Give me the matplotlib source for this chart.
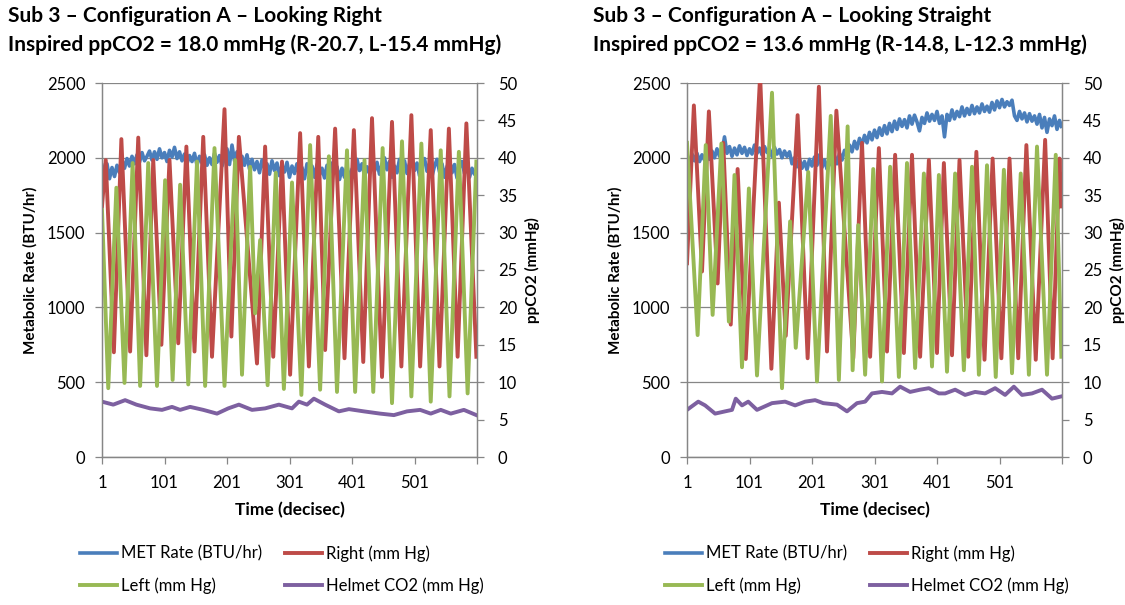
import matplotlib
matplotlib.use("Agg")
import matplotlib.pyplot as plt

plt.rcParams["font.family"] = ["Lato", "DejaVu Sans"]

# ---- time base for the MET trace (one read every 4 decisec) ----
met_t = list(range(1, 600, 4)) + [600]

# ---- left panel: looking right ----
left_met = [1950, 1890, 1960, 1860, 1935, 1875, 1950, 1900, 1985, 1930,
            1995, 1945, 2010, 1960, 2020, 1970, 2035, 1980, 2010, 2045,
            1985, 2040, 1990, 2060, 2000, 2035, 1975, 2050, 2005, 2070,
            1995, 2040, 1980, 2025, 1960, 2015, 1975, 2030, 1950, 2010,
            1965, 2020, 1950, 2000, 1955, 2030, 1970, 2015, 1945, 2000,
            2060, 1955, 2085, 1980, 2040, 1935, 2010, 1950, 2020, 1925,
            1990, 1920, 1975, 1900, 1985, 1930, 1960, 1890, 1980, 1915,
            1965, 1880, 1950, 1905, 1970, 1870, 1945, 1895, 1960, 1880,
            1935, 1860, 1960, 1895, 1945, 1870, 1955, 1885, 1930, 1865,
            1950, 1880, 1965, 1900, 1940, 1855, 1930, 1870, 1945, 1850,
            1925, 1870, 1990, 1915, 1960, 1880, 1940, 1895, 1985, 1910,
            1970, 1890, 1955, 2000, 1920, 1975, 1870, 1945, 1900, 1990,
            1935, 1980, 1895, 1960, 2000, 1915, 1965, 1880, 1950, 1995,
            1910, 1960, 1875, 1945, 1990, 1905, 1960, 1870, 1940, 1985,
            1900, 1955, 1865, 1935, 1975, 1895, 1950, 1870, 1930, 1890,
            1910]

left_right_t = [1, 7, 20, 32, 46, 59, 72, 83, 96, 109, 123, 136, 149, 163, 177, 197,
                208, 220, 249, 262, 275, 289, 302, 318, 332, 347, 358, 374, 389, 404,
                419, 433, 449, 465, 480, 496, 510, 527, 541, 556, 570, 584, 600]
left_right_v = [33.5, 39.7, 14.0, 42.5, 14.1, 42.7, 13.6, 39.7, 15.0, 39.7, 15.2, 41.5,
                14.1, 42.8, 13.4, 46.5, 16.1, 42.8, 12.5, 41.5, 13.4, 39.5, 11.0, 43.3,
                12.1, 42.8, 14.3, 43.9, 13.2, 43.7, 12.7, 45.3, 10.7, 44.8, 12.1, 45.7,
                12.1, 43.7, 12.1, 43.9, 13.4, 44.6, 13.4]

left_left_t = [1, 11, 24, 37, 50, 62, 75, 89, 102, 114, 126, 139, 153, 166, 181, 197,
               214, 225, 238, 246, 254, 266, 279, 292, 305, 320, 334, 350, 364, 377,
               393, 406, 421, 435, 450, 465, 481, 496, 512, 527, 543, 557, 572, 586, 600]
left_left_v = [33.0, 9.2, 36.0, 9.9, 39.3, 9.5, 39.3, 9.5, 37.0, 10.3, 36.4, 9.7, 39.5,
               9.5, 41.3, 9.5, 39.7, 11.0, 38.8, 19.2, 29.0, 9.6, 38.0, 9.1, 36.7, 8.3,
               41.7, 9.0, 40.2, 8.7, 41.0, 8.7, 39.7, 8.7, 41.3, 7.2, 42.2, 8.1, 41.9,
               7.4, 41.0, 8.1, 40.8, 8.5, 39.5]

left_helmet_t = [1, 19, 38, 56, 78, 97, 113, 126, 142, 163, 185, 203, 220, 241, 262,
                 284, 305, 316, 329, 340, 358, 380, 396, 420, 446, 468, 489, 510, 527,
                 543, 559, 580, 600]
left_helmet_v = [7.4, 7.0, 7.6, 7.0, 6.5, 6.3, 6.7, 6.3, 6.7, 6.3, 5.8, 6.5, 7.0, 6.3,
                 6.5, 7.0, 6.5, 7.4, 7.0, 7.8, 7.0, 6.1, 6.4, 6.1, 5.8, 5.6, 6.1, 6.3,
                 5.8, 6.3, 5.8, 6.3, 5.6]

# ---- right panel: looking straight ----
straight_met = [2010, 1970, 2025, 1980, 2030, 1975, 2020, 1985, 2040, 1990,
                2045, 2000, 2060, 2010, 2040, 2140, 2030, 2075, 2010, 2065,
                2020, 2080, 2030, 2070, 2015, 2060, 2025, 2085, 2030, 2065,
                2020, 2075, 2035, 2060, 2010, 2070, 2025, 2055, 2000, 2045,
                2010, 2040, 1960, 2000, 1940, 1995, 1930, 1975, 1920, 1990,
                1945, 2005, 1950, 2020, 1935, 1985, 1925, 2000, 1950, 2015,
                1960, 2030, 1985, 2050, 2010, 2085, 2040, 2110, 2060, 2130,
                2085, 2150, 2100, 2170, 2120, 2185, 2135, 2200, 2150, 2215,
                2160, 2230, 2175, 2245, 2190, 2260, 2210, 2255, 2200, 2280,
                2225, 2285, 2240, 2180, 2270, 2230, 2300, 2245, 2290, 2250,
                2310, 2230, 2280, 2140, 2290, 2250, 2320, 2260, 2310, 2275,
                2340, 2280, 2330, 2290, 2350, 2295, 2340, 2300, 2360, 2310,
                2345, 2305, 2370, 2320, 2380, 2335, 2390, 2340, 2375, 2350,
                2385, 2280, 2250, 2310, 2260, 2300, 2240, 2295, 2245, 2280,
                2225, 2290, 2200, 2270, 2170, 2260, 2215, 2280, 2190, 2250,
                2210]

straight_right_t = [1, 12, 25, 36, 50, 59, 71, 82, 95, 118, 136, 148, 159, 178, 194,
                    212, 225, 240, 267, 281, 294, 308, 321, 334, 348, 361, 374, 388,
                    401, 412, 425, 437, 451, 464, 477, 490, 504, 517, 531, 544, 559,
                    574, 586, 597, 600]
straight_right_v = [25.9, 47.0, 24.8, 46.2, 23.2, 42.0, 17.7, 38.5, 13.1, 51.0, 11.8,
                    34.0, 16.2, 45.7, 13.2, 49.5, 14.1, 46.3, 13.2, 42.0, 13.4, 41.3,
                    14.1, 40.4, 13.9, 40.4, 13.4, 39.7, 13.9, 39.3, 13.6, 39.7, 13.4,
                    40.8, 13.0, 39.9, 13.2, 39.9, 13.2, 41.7, 13.0, 42.4, 13.2, 39.9,
                    33.5]

straight_left_t = [1, 18, 31, 42, 56, 68, 77, 89, 100, 113, 137, 153, 166, 175, 195,
                   209, 231, 244, 258, 266, 275, 286, 299, 313, 326, 340, 353, 366,
                   380, 393, 404, 417, 430, 444, 457, 468, 481, 495, 508, 521, 535,
                   548, 561, 577, 591, 600]
straight_left_v = [42.0, 16.3, 41.7, 19.0, 41.9, 18.1, 37.7, 12.0, 35.9, 10.9, 48.7,
                   9.2, 31.5, 14.6, 38.1, 10.1, 45.6, 10.3, 44.2, 11.6, 31.0, 11.0,
                   38.5, 10.1, 38.8, 10.7, 39.3, 11.9, 37.9, 12.1, 37.7, 11.4, 37.9,
                   11.6, 38.8, 11.0, 39.0, 10.7, 38.4, 11.2, 37.9, 11.0, 41.5, 11.0,
                   40.4, 13.4]

straight_helmet_t = [1, 19, 30, 46, 62, 73, 79, 89, 99, 113, 137, 158, 174, 190, 206,
                     219, 241, 257, 273, 286, 297, 313, 329, 342, 358, 374, 388, 404,
                     414, 430, 446, 462, 478, 494, 510, 524, 537, 553, 569, 585, 600]
straight_helmet_v = [6.3, 7.4, 6.9, 5.8, 6.1, 6.3, 7.8, 6.9, 7.4, 6.3, 7.2, 7.4, 6.9,
                     7.4, 7.6, 7.2, 7.0, 6.1, 7.2, 7.4, 8.5, 8.7, 8.5, 9.4, 8.7, 9.0,
                     9.2, 8.5, 8.5, 9.0, 8.3, 8.7, 8.5, 9.2, 8.3, 9.4, 8.3, 8.5, 9.0,
                     7.8, 8.1]

x_ticks = [1, 101, 201, 301, 401, 501]
series_names = ["MET Rate (BTU/hr)", "Right (mm Hg)", "Left (mm Hg)", "Helmet CO2 (mm Hg)"]
colors = ["#4A7EBB", "#BE4B48", "#98B954", "#7D60A0"]
GRID = "#868686"
W, H = 1125, 605


def draw_panel(fig, x0, title, met, right, left, helmet):
    ax = fig.add_axes([x0 / W, 1 - 457 / H, 375 / W, 374 / H])
    ax2 = ax.twinx()

    h_met, = ax.plot(met_t, met, color=colors[0], lw=2.6, solid_joinstyle="round")
    h_r, = ax2.plot(*right, color=colors[1], lw=2.8, solid_joinstyle="round")
    h_l, = ax2.plot(*left, color=colors[2], lw=2.8, solid_joinstyle="round")
    h_h, = ax2.plot(*helmet, color=colors[3], lw=2.8, solid_joinstyle="round")

    ax.set_xlim(1, 601)
    ax.set_ylim(0, 2500)
    ax2.set_ylim(0, 50)
    ax.set_yticks(range(0, 2501, 500))
    ax2.set_yticks(range(0, 51, 5))
    ax.set_xticks(x_ticks + [601])
    ax.set_xticklabels([str(t) for t in x_ticks] + [""])
    ax.grid(axis="y", color=GRID, lw=0.9)
    ax.set_axisbelow(True)

    for a in (ax, ax2):
        a.spines["top"].set_visible(False)
        for side in ("left", "right", "bottom"):
            a.spines[side].set_color(GRID)
            a.spines[side].set_linewidth(0.9)
    ax.tick_params(axis="both", colors=GRID, labelcolor="black", labelsize=12,
                   length=5, width=0.9, direction="out")
    ax.tick_params(axis="y", pad=7)
    ax.tick_params(axis="x", pad=8)
    ax2.tick_params(axis="y", colors=GRID, labelcolor="black", labelsize=12,
                    length=5, width=0.9, direction="out", pad=10)

    ax.set_ylabel("Metabolic Rate (BTU/hr)", fontsize=11, fontweight="bold", labelpad=7)
    ax2.set_ylabel("ppCO2 (mmHg)", fontsize=11, fontweight="bold", rotation=90, labelpad=6)
    ax.set_xlabel("Time (decisec)", fontsize=12.5, fontweight="bold", labelpad=8)

    fig.text((x0 - 94) / W, 1 - 16 / H, title[0], fontsize=15, fontweight="bold", va="center")
    fig.text((x0 - 94) / W, 1 - 45 / H, title[1], fontsize=15, fontweight="bold", va="center")

    # column-major order gives rows: MET / Right, then Left / Helmet
    handles = [h_met, h_l, h_r, h_h]
    labels = [series_names[0], series_names[2], series_names[1], series_names[3]]
    fig.legend(handles, labels, loc="upper left", bbox_to_anchor=((x0 - 22) / W, 1 - 545 / H),
               ncol=2, frameon=False, fontsize=12, handlelength=2.2, handletextpad=0.25,
               columnspacing=1.4, labelspacing=0.95, borderpad=0, borderaxespad=0)


fig = plt.figure(figsize=(W / 100, H / 100), dpi=100)
draw_panel(fig, 102,
           ("Sub 3 \u2013 Configuration A \u2013 Looking Right",
            "Inspired ppCO2 = 18.0 mmHg (R-20.7, L-15.4 mmHg)"),
           left_met, (left_right_t, left_right_v), (left_left_t, left_left_v),
           (left_helmet_t, left_helmet_v))
draw_panel(fig, 687,
           ("Sub 3 \u2013 Configuration A \u2013 Looking Straight",
            "Inspired ppCO2 = 13.6 mmHg (R-14.8, L-12.3 mmHg)"),
           straight_met, (straight_right_t, straight_right_v),
           (straight_left_t, straight_left_v), (straight_helmet_t, straight_helmet_v))
fig.savefig("out.png", dpi=100)
